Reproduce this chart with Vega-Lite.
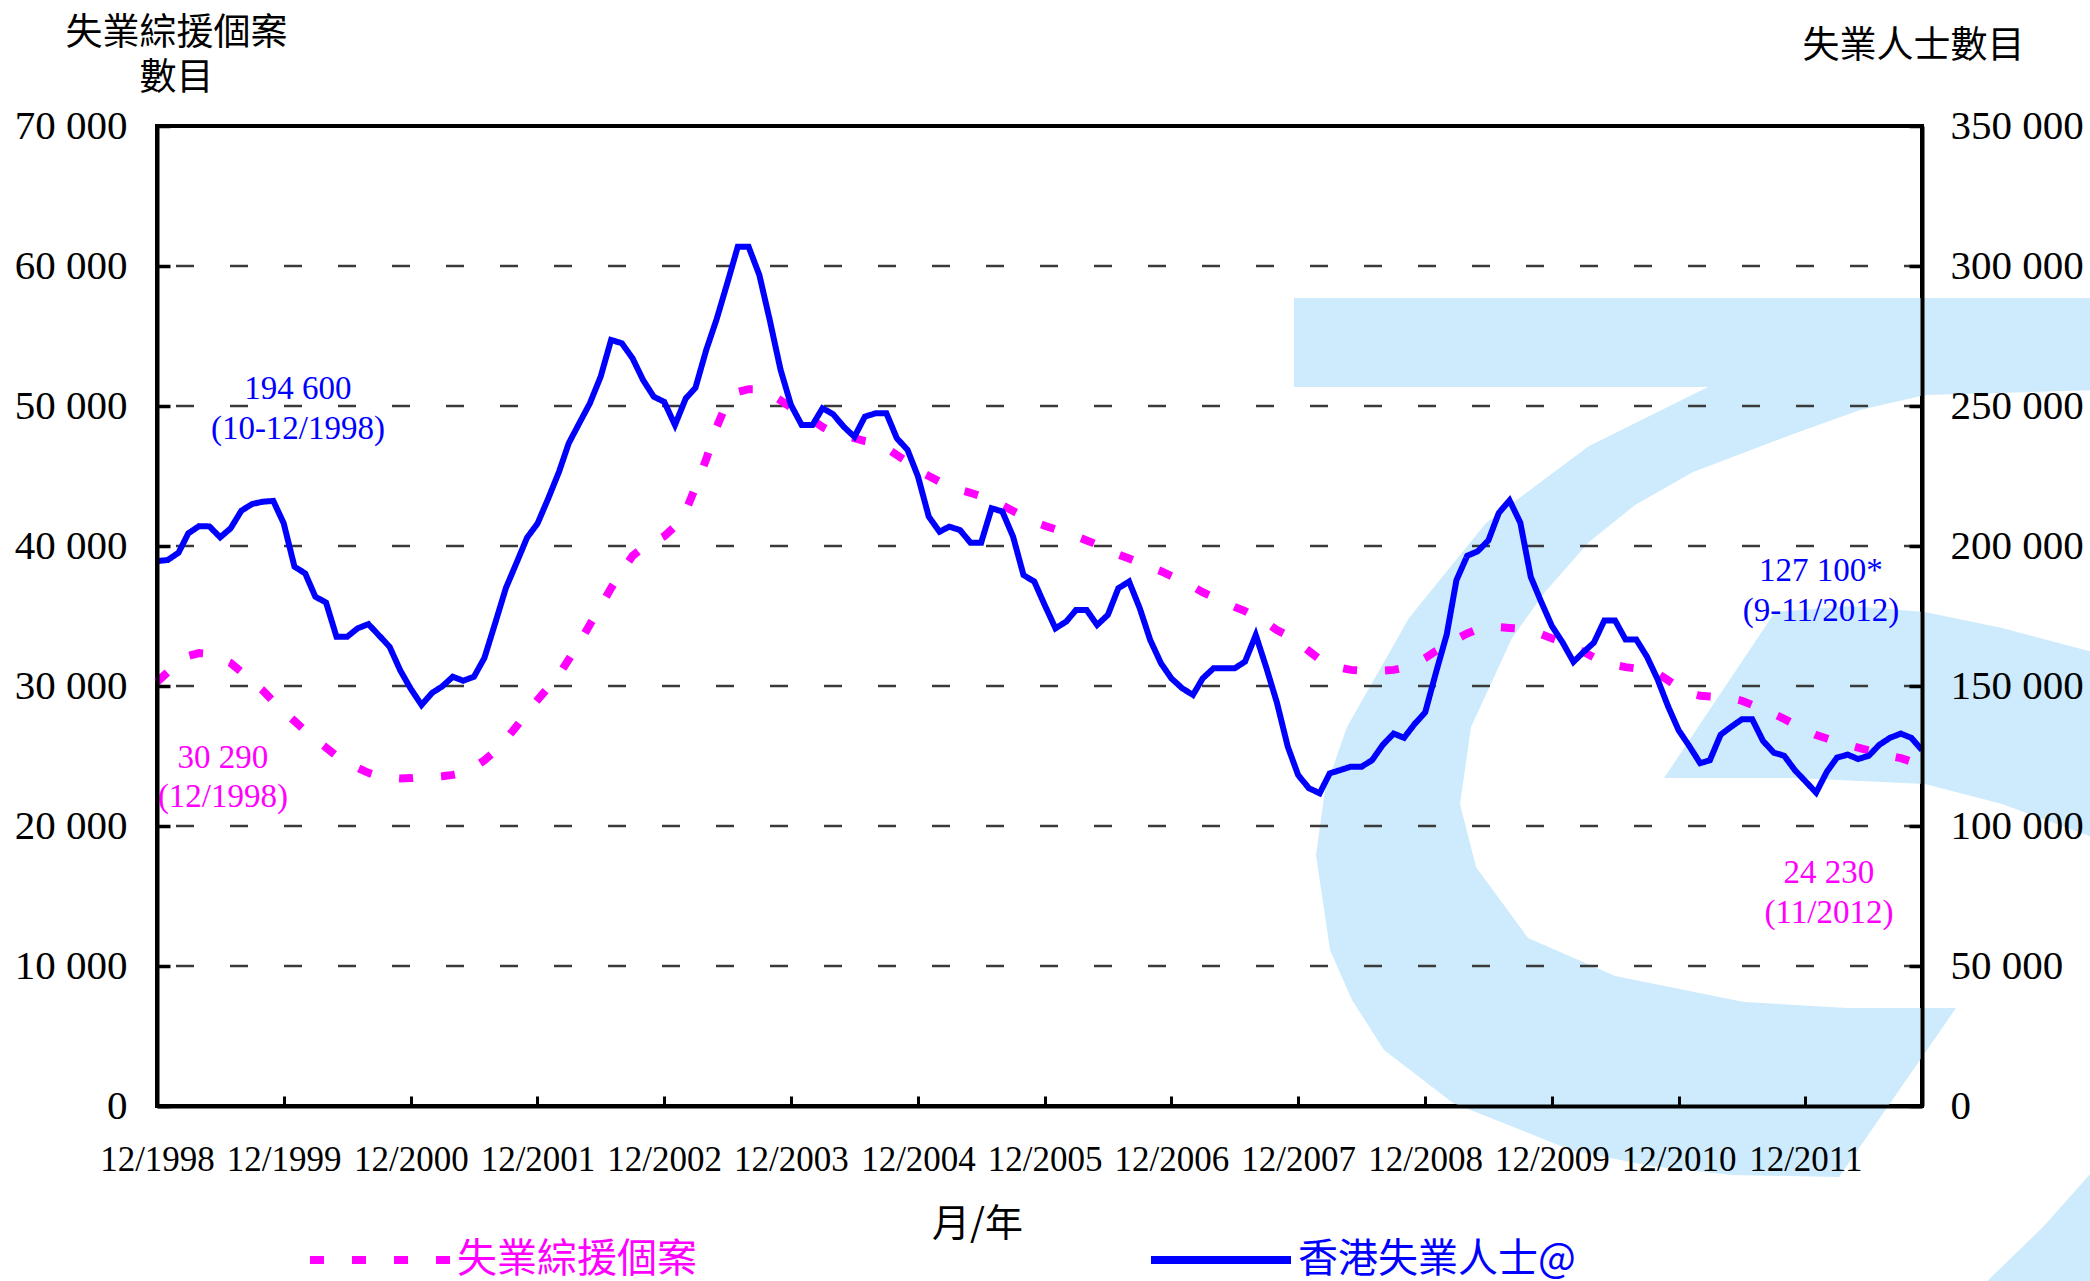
{
  "$schema": "https://vega.github.io/schema/vega-lite/v6.json",
  "width": 1765,
  "height": 980,
  "autosize": "none",
  "padding": {"left": 157, "top": 126, "right": 168, "bottom": 175},
  "background": "white",
  "config": {"view": {"stroke": "black", "strokeWidth": 4}},
  "datasets": {
    "series": [
      {"date": "1998-12-01", "cssa": 30290, "unemployed": 194600},
      {"date": "1999-01-01", "cssa": 31000, "unemployed": 195000},
      {"date": "1999-02-01", "cssa": 31700, "unemployed": 197600},
      {"date": "1999-03-01", "cssa": 32150, "unemployed": 204500},
      {"date": "1999-04-01", "cssa": 32350, "unemployed": 207100},
      {"date": "1999-05-01", "cssa": 32300, "unemployed": 207000},
      {"date": "1999-06-01", "cssa": 32000, "unemployed": 203100},
      {"date": "1999-07-01", "cssa": 31650, "unemployed": 206300},
      {"date": "1999-08-01", "cssa": 31000, "unemployed": 212600},
      {"date": "1999-09-01", "cssa": 30300, "unemployed": 215000},
      {"date": "1999-10-01", "cssa": 29700, "unemployed": 215800},
      {"date": "1999-11-01", "cssa": 28900, "unemployed": 216100},
      {"date": "1999-12-01", "cssa": 28200, "unemployed": 208100},
      {"date": "2000-01-01", "cssa": 27500, "unemployed": 192600},
      {"date": "2000-02-01", "cssa": 26800, "unemployed": 190200},
      {"date": "2000-03-01", "cssa": 26200, "unemployed": 181900},
      {"date": "2000-04-01", "cssa": 25600, "unemployed": 179800},
      {"date": "2000-05-01", "cssa": 25000, "unemployed": 167600},
      {"date": "2000-06-01", "cssa": 24600, "unemployed": 167600},
      {"date": "2000-07-01", "cssa": 24150, "unemployed": 170600},
      {"date": "2000-08-01", "cssa": 23800, "unemployed": 172100},
      {"date": "2000-09-01", "cssa": 23550, "unemployed": 168000},
      {"date": "2000-10-01", "cssa": 23450, "unemployed": 164000},
      {"date": "2000-11-01", "cssa": 23400, "unemployed": 155500},
      {"date": "2000-12-01", "cssa": 23420, "unemployed": 149000},
      {"date": "2001-01-01", "cssa": 23480, "unemployed": 143200},
      {"date": "2001-02-01", "cssa": 23500, "unemployed": 147600},
      {"date": "2001-03-01", "cssa": 23550, "unemployed": 149800},
      {"date": "2001-04-01", "cssa": 23650, "unemployed": 153300},
      {"date": "2001-05-01", "cssa": 23800, "unemployed": 151900},
      {"date": "2001-06-01", "cssa": 24200, "unemployed": 153300},
      {"date": "2001-07-01", "cssa": 24700, "unemployed": 160000},
      {"date": "2001-08-01", "cssa": 25350, "unemployed": 172400},
      {"date": "2001-09-01", "cssa": 26200, "unemployed": 185000},
      {"date": "2001-10-01", "cssa": 27100, "unemployed": 193800},
      {"date": "2001-11-01", "cssa": 28100, "unemployed": 203000},
      {"date": "2001-12-01", "cssa": 29000, "unemployed": 208000},
      {"date": "2002-01-01", "cssa": 29900, "unemployed": 217000},
      {"date": "2002-02-01", "cssa": 30800, "unemployed": 226500},
      {"date": "2002-03-01", "cssa": 31900, "unemployed": 236700},
      {"date": "2002-04-01", "cssa": 33100, "unemployed": 244000},
      {"date": "2002-05-01", "cssa": 34400, "unemployed": 251000},
      {"date": "2002-06-01", "cssa": 35700, "unemployed": 260500},
      {"date": "2002-07-01", "cssa": 37000, "unemployed": 273600},
      {"date": "2002-08-01", "cssa": 38200, "unemployed": 272400},
      {"date": "2002-09-01", "cssa": 39300, "unemployed": 267000},
      {"date": "2002-10-01", "cssa": 39900, "unemployed": 259300},
      {"date": "2002-11-01", "cssa": 40300, "unemployed": 253300},
      {"date": "2002-12-01", "cssa": 40700, "unemployed": 251500},
      {"date": "2003-01-01", "cssa": 41400, "unemployed": 243200},
      {"date": "2003-02-01", "cssa": 42500, "unemployed": 252700},
      {"date": "2003-03-01", "cssa": 44200, "unemployed": 256500},
      {"date": "2003-04-01", "cssa": 46200, "unemployed": 270000},
      {"date": "2003-05-01", "cssa": 48500, "unemployed": 281000},
      {"date": "2003-06-01", "cssa": 50300, "unemployed": 294000},
      {"date": "2003-07-01", "cssa": 51000, "unemployed": 306900},
      {"date": "2003-08-01", "cssa": 51200, "unemployed": 306900},
      {"date": "2003-09-01", "cssa": 51200, "unemployed": 296800},
      {"date": "2003-10-01", "cssa": 50900, "unemployed": 280700},
      {"date": "2003-11-01", "cssa": 50400, "unemployed": 263000},
      {"date": "2003-12-01", "cssa": 49900, "unemployed": 250400},
      {"date": "2004-01-01", "cssa": 49500, "unemployed": 243200},
      {"date": "2004-02-01", "cssa": 49000, "unemployed": 243200},
      {"date": "2004-03-01", "cssa": 48500, "unemployed": 249200},
      {"date": "2004-04-01", "cssa": 48100, "unemployed": 247000},
      {"date": "2004-05-01", "cssa": 47900, "unemployed": 242600},
      {"date": "2004-06-01", "cssa": 47700, "unemployed": 239000},
      {"date": "2004-07-01", "cssa": 47500, "unemployed": 246200},
      {"date": "2004-08-01", "cssa": 47350, "unemployed": 247400},
      {"date": "2004-09-01", "cssa": 47000, "unemployed": 247400},
      {"date": "2004-10-01", "cssa": 46500, "unemployed": 238500},
      {"date": "2004-11-01", "cssa": 46000, "unemployed": 234300},
      {"date": "2004-12-01", "cssa": 45400, "unemployed": 224800},
      {"date": "2005-01-01", "cssa": 45000, "unemployed": 210500},
      {"date": "2005-02-01", "cssa": 44600, "unemployed": 205100},
      {"date": "2005-03-01", "cssa": 44250, "unemployed": 206900},
      {"date": "2005-04-01", "cssa": 44000, "unemployed": 205700},
      {"date": "2005-05-01", "cssa": 43800, "unemployed": 201200},
      {"date": "2005-06-01", "cssa": 43550, "unemployed": 201200},
      {"date": "2005-07-01", "cssa": 43250, "unemployed": 213500},
      {"date": "2005-08-01", "cssa": 42900, "unemployed": 212300},
      {"date": "2005-09-01", "cssa": 42500, "unemployed": 203300},
      {"date": "2005-10-01", "cssa": 42100, "unemployed": 189600},
      {"date": "2005-11-01", "cssa": 41700, "unemployed": 187300},
      {"date": "2005-12-01", "cssa": 41450, "unemployed": 178900},
      {"date": "2006-01-01", "cssa": 41200, "unemployed": 170600},
      {"date": "2006-02-01", "cssa": 40950, "unemployed": 173000},
      {"date": "2006-03-01", "cssa": 40700, "unemployed": 177100},
      {"date": "2006-04-01", "cssa": 40400, "unemployed": 177100},
      {"date": "2006-05-01", "cssa": 40100, "unemployed": 171800},
      {"date": "2006-06-01", "cssa": 39750, "unemployed": 175400},
      {"date": "2006-07-01", "cssa": 39400, "unemployed": 184900},
      {"date": "2006-08-01", "cssa": 39100, "unemployed": 187300},
      {"date": "2006-09-01", "cssa": 38800, "unemployed": 177700},
      {"date": "2006-10-01", "cssa": 38500, "unemployed": 166400},
      {"date": "2006-11-01", "cssa": 38200, "unemployed": 158100},
      {"date": "2006-12-01", "cssa": 37850, "unemployed": 152700},
      {"date": "2007-01-01", "cssa": 37500, "unemployed": 149200},
      {"date": "2007-02-01", "cssa": 37100, "unemployed": 146800},
      {"date": "2007-03-01", "cssa": 36700, "unemployed": 152700},
      {"date": "2007-04-01", "cssa": 36350, "unemployed": 156300},
      {"date": "2007-05-01", "cssa": 36000, "unemployed": 156300},
      {"date": "2007-06-01", "cssa": 35650, "unemployed": 156300},
      {"date": "2007-07-01", "cssa": 35350, "unemployed": 158700},
      {"date": "2007-08-01", "cssa": 34950, "unemployed": 168200},
      {"date": "2007-09-01", "cssa": 34500, "unemployed": 156300},
      {"date": "2007-10-01", "cssa": 34000, "unemployed": 144000},
      {"date": "2007-11-01", "cssa": 33600, "unemployed": 128400},
      {"date": "2007-12-01", "cssa": 33100, "unemployed": 118200},
      {"date": "2008-01-01", "cssa": 32500, "unemployed": 113500},
      {"date": "2008-02-01", "cssa": 31900, "unemployed": 111700},
      {"date": "2008-03-01", "cssa": 31550, "unemployed": 118800},
      {"date": "2008-04-01", "cssa": 31300, "unemployed": 120000},
      {"date": "2008-05-01", "cssa": 31150, "unemployed": 121200},
      {"date": "2008-06-01", "cssa": 31100, "unemployed": 121200},
      {"date": "2008-07-01", "cssa": 31050, "unemployed": 123500},
      {"date": "2008-08-01", "cssa": 31100, "unemployed": 129000},
      {"date": "2008-09-01", "cssa": 31150, "unemployed": 133000},
      {"date": "2008-10-01", "cssa": 31300, "unemployed": 131500},
      {"date": "2008-11-01", "cssa": 31600, "unemployed": 136500},
      {"date": "2008-12-01", "cssa": 32000, "unemployed": 140600},
      {"date": "2009-01-01", "cssa": 32500, "unemployed": 154800},
      {"date": "2009-02-01", "cssa": 32950, "unemployed": 168400},
      {"date": "2009-03-01", "cssa": 33350, "unemployed": 187800},
      {"date": "2009-04-01", "cssa": 33750, "unemployed": 196500},
      {"date": "2009-05-01", "cssa": 34050, "unemployed": 198100},
      {"date": "2009-06-01", "cssa": 34200, "unemployed": 202000},
      {"date": "2009-07-01", "cssa": 34200, "unemployed": 211800},
      {"date": "2009-08-01", "cssa": 34150, "unemployed": 216300},
      {"date": "2009-09-01", "cssa": 34100, "unemployed": 208300},
      {"date": "2009-10-01", "cssa": 33950, "unemployed": 189000},
      {"date": "2009-11-01", "cssa": 33700, "unemployed": 179800},
      {"date": "2009-12-01", "cssa": 33400, "unemployed": 171400},
      {"date": "2010-01-01", "cssa": 33100, "unemployed": 165500},
      {"date": "2010-02-01", "cssa": 32800, "unemployed": 158600},
      {"date": "2010-03-01", "cssa": 32450, "unemployed": 162000},
      {"date": "2010-04-01", "cssa": 32050, "unemployed": 165500},
      {"date": "2010-05-01", "cssa": 31750, "unemployed": 173400},
      {"date": "2010-06-01", "cssa": 31500, "unemployed": 173400},
      {"date": "2010-07-01", "cssa": 31350, "unemployed": 166600},
      {"date": "2010-08-01", "cssa": 31250, "unemployed": 166600},
      {"date": "2010-09-01", "cssa": 31200, "unemployed": 160400},
      {"date": "2010-10-01", "cssa": 30900, "unemployed": 152500},
      {"date": "2010-11-01", "cssa": 30400, "unemployed": 142600},
      {"date": "2010-12-01", "cssa": 29900, "unemployed": 134200},
      {"date": "2011-01-01", "cssa": 29500, "unemployed": 128500},
      {"date": "2011-02-01", "cssa": 29300, "unemployed": 122400},
      {"date": "2011-03-01", "cssa": 29250, "unemployed": 123500},
      {"date": "2011-04-01", "cssa": 29200, "unemployed": 132600},
      {"date": "2011-05-01", "cssa": 29130, "unemployed": 135400},
      {"date": "2011-06-01", "cssa": 28950, "unemployed": 138100},
      {"date": "2011-07-01", "cssa": 28650, "unemployed": 138100},
      {"date": "2011-08-01", "cssa": 28300, "unemployed": 130400},
      {"date": "2011-09-01", "cssa": 28000, "unemployed": 126200},
      {"date": "2011-10-01", "cssa": 27650, "unemployed": 125100},
      {"date": "2011-11-01", "cssa": 27250, "unemployed": 119900},
      {"date": "2011-12-01", "cssa": 26850, "unemployed": 116000},
      {"date": "2012-01-01", "cssa": 26500, "unemployed": 111900},
      {"date": "2012-02-01", "cssa": 26250, "unemployed": 119400},
      {"date": "2012-03-01", "cssa": 26000, "unemployed": 124400},
      {"date": "2012-04-01", "cssa": 25800, "unemployed": 125500},
      {"date": "2012-05-01", "cssa": 25600, "unemployed": 123900},
      {"date": "2012-06-01", "cssa": 25400, "unemployed": 125100},
      {"date": "2012-07-01", "cssa": 25200, "unemployed": 129000},
      {"date": "2012-08-01", "cssa": 25000, "unemployed": 131500},
      {"date": "2012-09-01", "cssa": 24850, "unemployed": 133000},
      {"date": "2012-10-01", "cssa": 24600, "unemployed": 131500},
      {"date": "2012-11-01", "cssa": 24230, "unemployed": 127100}
    ],
    "grid": [
      {"level": 10000}, {"level": 20000}, {"level": 30000},
      {"level": 40000}, {"level": 50000}, {"level": 60000}
    ],
    "notes": [
      {"date": "2000-01-11", "level": 51210, "label": "194 600\n(10-12/1998)", "series": "unemployed"},
      {"date": "1999-06-09", "level": 24860, "label": "30 290\n(12/1998)", "series": "cssa"},
      {"date": "2012-01-15", "level": 38210, "label": "127 100*\n(9-11/2012)", "series": "unemployed"},
      {"date": "2012-02-07", "level": 16640, "label": "24 230\n(11/2012)", "series": "cssa"}
    ]
  },
  "layer": [
    {
      "data": {"values": [{"item": "watermark"}]},
      "mark": {
        "type": "point",
        "shape": "M-0.663,-1.056L0.949,-1.056L0.949,-0.872L0.599,-0.862L0.469,-0.832L0.341,-0.786L0.135,-0.708L0.019,-0.642L-0.073,-0.568L-0.161,-0.468L-0.227,-0.376L-0.309,-0.198L-0.331,-0.044L-0.299,0.082L-0.195,0.224L-0.021,0.300L0.237,0.352L0.443,0.364L0.661,0.364L0.427,0.702L0.213,0.698L0.049,0.680L-0.109,0.648L-0.345,0.554L-0.483,0.448L-0.547,0.348L-0.591,0.248L-0.619,0.058L-0.601,-0.072L-0.557,-0.198L-0.433,-0.416L-0.279,-0.606L-0.073,-0.760L0.165,-0.878L-0.663,-0.878ZM0.077,-0.096L0.299,-0.428L0.449,-0.440L0.599,-0.428L0.753,-0.396L0.949,-0.344L0.949,0.028L0.753,-0.044L0.599,-0.084L0.341,-0.096ZM0.949,0.674L0.835,0.802L0.705,0.928L0.949,0.928Z",
        "filled": true,
        "color": "#CDEBFC",
        "opacity": 1,
        "strokeWidth": 0,
        "size": 1000000
      },
      "encoding": {
        "x": {"datum": {"year": 2010, "month": 7, "date": 1, "utc": true}, "type": "temporal",
              "scale": {"type": "utc", "domain": [{"year": 1998, "month": 12, "date": 1, "utc": true}, {"year": 2012, "month": 11, "date": 1, "utc": true}]}},
        "y": {"datum": 20000, "type": "quantitative", "scale": {"domain": [0, 70000], "nice": false}, "axis": null}
      }
    },
    {
      "data": {"name": "grid"},
      "mark": {"type": "rule", "color": "#3a3a3a", "strokeWidth": 2.5, "strokeDash": [18, 36]},
      "encoding": {
        "y": {"field": "level", "type": "quantitative", "scale": {"domain": [0, 70000], "nice": false}, "axis": null}
      }
    },
    {
      "data": {"name": "series"},
      "transform": [
        {"fold": ["cssa", "unemployed"], "as": ["series", "value"]},
        {"filter": "datum.series == 'cssa'"}
      ],
      "mark": {"type": "line", "strokeWidth": 8, "strokeCap": "butt"},
      "encoding": {
        "x": {
          "field": "date", "type": "temporal",
          "scale": {"type": "utc", "domain": [{"year": 1998, "month": 12, "date": 1, "utc": true}, {"year": 2012, "month": 11, "date": 1, "utc": true}]},
          "axis": {
            "orient": "bottom",
            "values": [
              {"year": 1998, "month": 12, "date": 1, "utc": true},
              {"year": 1999, "month": 12, "date": 1, "utc": true},
              {"year": 2000, "month": 12, "date": 1, "utc": true},
              {"year": 2001, "month": 12, "date": 1, "utc": true},
              {"year": 2002, "month": 12, "date": 1, "utc": true},
              {"year": 2003, "month": 12, "date": 1, "utc": true},
              {"year": 2004, "month": 12, "date": 1, "utc": true},
              {"year": 2005, "month": 12, "date": 1, "utc": true},
              {"year": 2006, "month": 12, "date": 1, "utc": true},
              {"year": 2007, "month": 12, "date": 1, "utc": true},
              {"year": 2008, "month": 12, "date": 1, "utc": true},
              {"year": 2009, "month": 12, "date": 1, "utc": true},
              {"year": 2010, "month": 12, "date": 1, "utc": true},
              {"year": 2011, "month": 12, "date": 1, "utc": true}
            ],
            "labelExpr": "utcFormat(datum.value, '%m/%Y')",
            "labelFont": "Liberation Serif",
            "labelFontSize": 35,
            "labelColor": "black",
            "labelPadding": 46,
            "labelFlush": false,
            "labelOverlap": false,
            "labelAngle": 0,
            "labelBaseline": "top",
            "tickSize": -10,
            "tickWidth": 3,
            "tickColor": "black",
            "domainColor": "black",
            "domainWidth": 4,
            "grid": false,
            "title": "月/年",
            "titleFont": "Noto Sans CJK TC",
            "titleFontSize": 38,
            "titleFontWeight": "normal",
            "titleColor": "black",
            "titleX": 820,
            "titleY": 118,
            "titleAlign": "center",
            "titleBaseline": "middle",
            "zindex": 1
          }
        },
        "y": {
          "field": "value", "type": "quantitative",
          "scale": {"domain": [0, 70000], "nice": false},
          "axis": {
            "orient": "left",
            "values": [0, 10000, 20000, 30000, 40000, 50000, 60000, 70000],
            "labelExpr": "replace(format(datum.value, ','), ',', ' ')",
            "labelFont": "Liberation Serif",
            "labelFontSize": 41,
            "labelColor": "black",
            "labelPadding": 43,
            "labelAlign": "right",
            "labelBaseline": "middle",
            "labelFlush": false,
            "labelOverlap": false,
            "tickSize": -13,
            "tickWidth": 3.5,
            "tickColor": "black",
            "domainColor": "black",
            "domainWidth": 4,
            "grid": false,
            "title": ["失業綜援個案", "數目"],
            "titleFont": "Noto Sans CJK TC",
            "titleFontSize": 37,
            "titleFontWeight": "normal",
            "titleColor": "black",
            "titleAngle": 0,
            "titleAlign": "center",
            "titleBaseline": "middle",
            "titleLineHeight": 45,
            "titleX": 19,
            "titleY": -93,
            "zindex": 1
          }
        },
        "color": {
          "field": "series", "type": "nominal",
          "scale": {"domain": ["cssa", "unemployed"], "range": ["#FF00FF", "#0000FF"]},
          "legend": {
            "title": null, "orient": "none", "legendX": 149, "legendY": 1060,
            "direction": "horizontal", "columns": 2, "columnPadding": 438,
            "symbolType": "stroke", "symbolSize": 19600, "symbolStrokeWidth": 8,
            "labelFont": "Noto Sans CJK TC", "labelFontSize": 40, "labelOffset": 3,
            "labelLimit": 0, "labelBaseline": "middle",
            "labelExpr": "datum.label == 'cssa' ? '失業綜援個案' : '香港失業人士@'",
            "labelColor": {"expr": "datum.value == 'cssa' ? '#FF00FF' : '#0000FF'"},
            "padding": 0
          }
        },
        "strokeDash": {
          "field": "series", "type": "nominal",
          "scale": {"domain": ["cssa", "unemployed"], "range": [[14, 28], [1, 0]]},
          "legend": {
            "title": null, "orient": "none", "legendX": 149, "legendY": 1060,
            "direction": "horizontal", "columns": 2, "columnPadding": 438,
            "symbolType": "stroke", "symbolSize": 19600, "symbolStrokeWidth": 8,
            "labelFont": "Noto Sans CJK TC", "labelFontSize": 40, "labelOffset": 3,
            "labelLimit": 0, "labelBaseline": "middle",
            "labelExpr": "datum.label == 'cssa' ? '失業綜援個案' : '香港失業人士@'",
            "labelColor": {"expr": "datum.value == 'cssa' ? '#FF00FF' : '#0000FF'"},
            "padding": 0
          }
        }
      }
    },
    {
      "data": {"name": "notes"},
      "mark": {"type": "text", "font": "Liberation Serif", "fontSize": 33, "lineBreak": "\n", "lineHeight": 39.5, "align": "center", "baseline": "middle"},
      "encoding": {
        "x": {"field": "date", "type": "temporal",
              "scale": {"type": "utc", "domain": [{"year": 1998, "month": 12, "date": 1, "utc": true}, {"year": 2012, "month": 11, "date": 1, "utc": true}]}},
        "y": {"field": "level", "type": "quantitative", "scale": {"domain": [0, 70000], "nice": false}, "axis": null},
        "text": {"field": "label"},
        "color": {"field": "series", "type": "nominal", "scale": {"domain": ["cssa", "unemployed"], "range": ["#FF00FF", "#0000FF"]}, "legend": null}
      }
    },
    {
      "data": {"name": "series"},
      "transform": [
        {"fold": ["cssa", "unemployed"], "as": ["series", "value"]},
        {"filter": "datum.series == 'unemployed'"}
      ],
      "mark": {"type": "line", "strokeWidth": 6},
      "encoding": {
        "x": {"field": "date", "type": "temporal",
              "scale": {"type": "utc", "domain": [{"year": 1998, "month": 12, "date": 1, "utc": true}, {"year": 2012, "month": 11, "date": 1, "utc": true}]}},
        "y": {
          "field": "value", "type": "quantitative",
          "scale": {"domain": [0, 350000], "nice": false},
          "axis": {
            "orient": "right",
            "values": [0, 50000, 100000, 150000, 200000, 250000, 300000, 350000],
            "labelExpr": "replace(format(datum.value, ','), ',', ' ')",
            "labelFont": "Liberation Serif",
            "labelFontSize": 41,
            "labelColor": "black",
            "labelPadding": 41,
            "labelAlign": "left",
            "labelBaseline": "middle",
            "labelFlush": false,
            "labelOverlap": false,
            "tickSize": -13,
            "tickWidth": 3.5,
            "tickColor": "black",
            "domainColor": "black",
            "domainWidth": 4,
            "grid": false,
            "title": "失業人士數目",
            "titleFont": "Noto Sans CJK TC",
            "titleFontSize": 37,
            "titleFontWeight": "normal",
            "titleColor": "black",
            "titleAngle": 0,
            "titleAlign": "center",
            "titleBaseline": "middle",
            "titleX": -9,
            "titleY": -80,
            "zindex": 1
          }
        },
        "color": {
          "field": "series", "type": "nominal",
          "scale": {"domain": ["cssa", "unemployed"], "range": ["#FF00FF", "#0000FF"]},
          "legend": {
            "title": null, "orient": "none", "legendX": 149, "legendY": 1060,
            "direction": "horizontal", "columns": 2, "columnPadding": 438,
            "symbolType": "stroke", "symbolSize": 19600, "symbolStrokeWidth": 8,
            "labelFont": "Noto Sans CJK TC", "labelFontSize": 40, "labelOffset": 3,
            "labelLimit": 0, "labelBaseline": "middle",
            "labelExpr": "datum.label == 'cssa' ? '失業綜援個案' : '香港失業人士@'",
            "labelColor": {"expr": "datum.value == 'cssa' ? '#FF00FF' : '#0000FF'"},
            "padding": 0
          }
        },
        "strokeDash": {
          "field": "series", "type": "nominal",
          "scale": {"domain": ["cssa", "unemployed"], "range": [[14, 28], [1, 0]]},
          "legend": {
            "title": null, "orient": "none", "legendX": 149, "legendY": 1060,
            "direction": "horizontal", "columns": 2, "columnPadding": 438,
            "symbolType": "stroke", "symbolSize": 19600, "symbolStrokeWidth": 8,
            "labelFont": "Noto Sans CJK TC", "labelFontSize": 40, "labelOffset": 3,
            "labelLimit": 0, "labelBaseline": "middle",
            "labelExpr": "datum.label == 'cssa' ? '失業綜援個案' : '香港失業人士@'",
            "labelColor": {"expr": "datum.value == 'cssa' ? '#FF00FF' : '#0000FF'"},
            "padding": 0
          }
        }
      }
    }
  ],
  "resolve": {"scale": {"y": "independent"}}
}
